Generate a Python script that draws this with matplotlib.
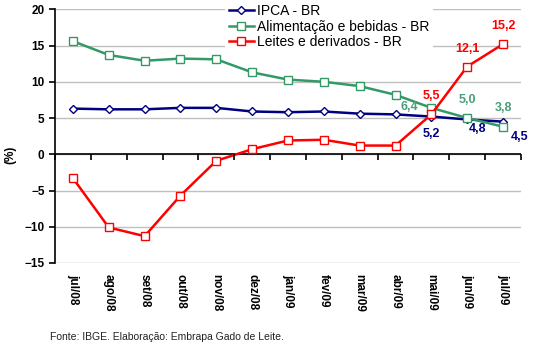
import numpy as np
import matplotlib.pyplot as plt

meses = ['jul/08', 'ago/08', 'set/08', 'out/08', 'nov/08', 'dez/08', 'jan/09',
         'fev/09', 'mar/09', 'abr/09', 'mai/09', 'jun/09', 'jul/09']
ipca = [6.3, 6.2, 6.2, 6.4, 6.4, 5.9, 5.8, 5.9, 5.6, 5.5, 5.2, 4.8, 4.5]
alimentacao = [15.6, 13.7, 12.9, 13.2, 13.1, 11.3, 10.3, 10.0, 9.4, 8.2, 6.4, 5.0, 3.8]
leites = [-3.3, -10.1, -11.3, -5.7, -0.9, 0.7, 1.9, 2.0, 1.2, 1.2, 5.5, 12.1, 15.2]

plt.rcParams['font.family'] = ['Liberation Sans', 'DejaVu Sans']

x = np.arange(len(meses))
fig = plt.figure(figsize=(5.35, 3.48), dpi=100)
ax = fig.add_axes([0.1028, 0.2443, 0.8710, 0.7290])

c_ipca = '#000080'
c_ali = '#339966'
c_lei = '#ff0000'

ax.plot(x, ipca, color=c_ipca, lw=1.8, marker='D', ms=4.5, mfc='white', mec=c_ipca, mew=1,
        label='IPCA - BR', zorder=3)
ax.plot(x, alimentacao, color=c_ali, lw=1.8, marker='s', ms=5.5, mfc='white', mec=c_ali, mew=1,
        label='Alimentação e bebidas - BR', zorder=3)
ax.plot(x, leites, color=c_lei, lw=1.8, marker='s', ms=5.5, mfc='white', mec=c_lei, mew=1,
        label='Leites e derivados - BR', zorder=4)

ax.set_xlim(-0.5, len(meses) - 0.5)
ax.set_ylim(-15, 20)
ax.set_yticks(np.arange(-15, 21, 5))
ax.grid(axis='y', color='#c0c0c0', lw=1)
ax.set_axisbelow(True)
ax.axhline(0, color='black', lw=1.2, zorder=2)

for s in ['top', 'right', 'bottom']:
    ax.spines[s].set_visible(False)
ax.spines['left'].set_linewidth(1.2)

ax.set_xticks(x)
ax.set_xticklabels(meses, rotation=270, fontweight='bold', fontsize=8.5, va='top', ha='center')
ax.tick_params(axis='x', length=0, pad=8)
ax.tick_params(axis='y', length=4, width=1.2, labelsize=8.5, direction='out')
for t in ax.get_yticklabels():
    t.set_fontweight('bold')

# boundary ticks on the zero line
ax2 = ax.twiny()
ax2.set_xlim(ax.get_xlim())
ax2.spines['bottom'].set_position(('data', 0))
ax2.spines['bottom'].set_visible(False)
for s in ['top', 'right', 'left']:
    ax2.spines[s].set_visible(False)
ax2.xaxis.set_ticks_position('bottom')
ax2.set_xticks(np.arange(len(meses) + 1) - 0.5)
ax2.tick_params(axis='x', length=4, width=1.2, direction='out', labelbottom=False, labeltop=False)

ax.set_ylabel('(%)', fontsize=8.5, fontweight='bold')
ax.yaxis.set_label_coords(-0.082, 0.426)

# data labels for the last three months
lab = dict(textcoords='offset pixels', fontsize=9, fontweight='bold', ha='center', va='center')
for i in range(10, 13):
    ax.annotate(f'{leites[i]:.1f}'.replace('.', ','), (x[i], leites[i]), xytext=(0, 18),
                color=c_lei, **lab)
off_ali = {10: (-22, 1), 11: (0, 18), 12: (0, 19)}
for i in range(10, 13):
    ax.annotate(f'{alimentacao[i]:.1f}'.replace('.', ','), (x[i], alimentacao[i]), xytext=off_ali[i],
                color='#4a9e7a', **lab)
off_ipca = {10: (0, -17), 11: (10, -10), 12: (17, -15)}
for i in range(10, 13):
    ax.annotate(f'{ipca[i]:.1f}'.replace('.', ','), (x[i], ipca[i]), xytext=off_ipca[i],
                color=c_ipca, **lab)

leg = fig.legend(loc='upper left', bbox_to_anchor=(0.42, 1.0), fontsize=10, frameon=True,
                 handlelength=1.8, handletextpad=0.2, labelspacing=0.1, borderpad=0.3,
                 borderaxespad=0)
leg.get_frame().set_facecolor('white')
leg.get_frame().set_edgecolor('none')
leg.get_frame().set_alpha(1)

fig.text(0.094, 0.032, 'Fonte: IBGE. Elaboração: Embrapa Gado de Leite.', fontsize=7.5,
         color='#222222', va='center')

fig.savefig('out.png', dpi=100)
